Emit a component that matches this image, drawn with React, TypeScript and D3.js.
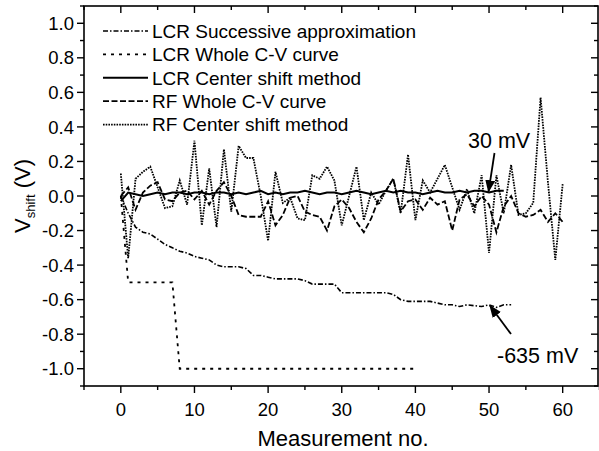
import * as React from "react";
import * as d3 from "d3";

// LCR Successive approximation (x = 0..53)
const lcrSuccessive = [
  0.0, -0.1, -0.18, -0.21, -0.22, -0.25, -0.28, -0.3, -0.32, -0.33,
  -0.35, -0.36, -0.37, -0.4, -0.41, -0.41, -0.41, -0.42, -0.46, -0.46,
  -0.47, -0.48, -0.48, -0.48, -0.48, -0.49, -0.51, -0.51, -0.51, -0.51,
  -0.56, -0.56, -0.56, -0.56, -0.56, -0.56, -0.56, -0.57, -0.6, -0.61,
  -0.61, -0.61, -0.61, -0.62, -0.63, -0.63, -0.64, -0.63, -0.635, -0.64,
  -0.63, -0.645, -0.63, -0.63
];

// LCR Whole C-V curve (x = 0..40)
const lcrWhole = [
  0.0, -0.5, -0.5, -0.5, -0.5, -0.5, -0.5, -0.5, -1.0, -1.0,
  -1.0, -1.0, -1.0, -1.0, -1.0, -1.0, -1.0, -1.0, -1.0, -1.0,
  -1.0, -1.0, -1.0, -1.0, -1.0, -1.0, -1.0, -1.0, -1.0, -1.0,
  -1.0, -1.0, -1.0, -1.0, -1.0, -1.0, -1.0, -1.0, -1.0, -1.0,
  -1.0
];

// LCR Center shift method (x = 0..52)
const lcrCenter = [
  -0.03, 0.02, 0.01, 0.0, 0.01, 0.02, 0.01, 0.02, 0.02, 0.01,
  0.02, 0.02, 0.01, 0.02, 0.02, 0.01, 0.02, 0.01, 0.02, 0.03,
  0.01, 0.02, 0.01, 0.02, 0.02, 0.03, 0.02, 0.01, 0.02, 0.02,
  0.01, 0.02, 0.03, 0.02, 0.01, 0.02, 0.03, 0.02, 0.03, 0.02,
  0.02, 0.01, 0.02, 0.03, 0.02, 0.02, 0.03, 0.02, 0.03, 0.03,
  0.02, 0.03, 0.03
];

// RF Whole C-V curve (x = 0..60)
const rfWhole = [
  0.0, 0.05, -0.08, 0.02, 0.06, 0.08, -0.02, -0.03, 0.02, 0.03,
  -0.02, 0.03, -0.05, 0.03, 0.08, 0.0, -0.11, -0.12, -0.12, -0.12,
  -0.03, -0.17, -0.11, -0.01, 0.0, -0.09, -0.11, -0.12, -0.2, -0.06,
  -0.02, -0.07, -0.15, -0.21, -0.13, -0.02, 0.03, 0.1, -0.09, -0.03,
  -0.02, -0.08, -0.01, -0.05, -0.03, -0.2, -0.02, 0.01, -0.06, 0.0,
  -0.05, -0.21, -0.06, 0.0, -0.1, -0.12, -0.11, -0.08, -0.15, -0.1,
  -0.15
];

// RF Center shift method (x = 0..60)
const rfCenter = [
  0.13, -0.36, 0.1, 0.14, 0.17, 0.05, -0.07, -0.06, 0.09, -0.05,
  0.32, -0.17, 0.16, -0.18, 0.27, -0.09, 0.29, 0.22, 0.22, 0.0,
  -0.26, 0.14, -0.04, -0.01, -0.13, -0.14, 0.12, 0.1, 0.17, 0.09,
  -0.17, 0.0, 0.17, -0.14, 0.02, -0.05, 0.03, 0.1, -0.1, 0.24,
  -0.14, 0.09, 0.02, 0.1, 0.18, 0.05, -0.08, 0.04, -0.1, 0.12,
  -0.33, 0.12, -0.1, 0.18, -0.11, -0.1, -0.04, 0.57, 0.08, -0.37,
  0.07
];

const seriesNames = [
  "LCR Successive approximation",
  "LCR Whole C-V curve",
  "LCR Center shift method",
  "RF Whole C-V curve",
  "RF Center shift method"
];

const xTicks = [0, 10, 20, 30, 40, 50, 60];
const yTicks = [-1.0, -0.8, -0.6, -0.4, -0.2, 0.0, 0.2, 0.4, 0.6, 0.8, 1.0];

const FONT = "'Liberation Sans', Arial, Helvetica, sans-serif";

export default function App() {
  const ref = React.useRef<SVGSVGElement>(null);

  React.useEffect(() => {
    const svg = d3.select(ref.current);
    svg.selectAll("*").remove();

    const left = 84, right = 598, top = 6, bottom = 386;

    const x = d3.scaleLinear().domain([-5, 65]).range([left, right + 1.5]);
    const y = d3.scaleLinear().domain([-1.1, 1.1]).range([bottom, top]);

    const line = d3.line<number>()
      .x((d, i) => x(i))
      .y(d => y(d));

    const styles = [
      {data: lcrSuccessive, dash: "5,2,1.5,2", width: 1.6},
      {data: lcrWhole, dash: "3,5", width: 1.8},
      {data: lcrCenter, dash: null, width: 2},
      {data: rfWhole, dash: "6,2.5", width: 1.8},
      {data: rfCenter, dash: "1.6,1.1", width: 1.8}
    ];

    const plot = svg.append("g");
    styles.forEach(s => {
      plot.append("path")
        .attr("d", line(s.data))
        .attr("fill", "none")
        .attr("stroke", "#000")
        .attr("stroke-width", s.width)
        .attr("stroke-dasharray", s.dash);
    });

    // frame
    svg.append("rect")
      .attr("x", left).attr("y", top)
      .attr("width", right - left).attr("height", bottom - top)
      .attr("fill", "none").attr("stroke", "#000").attr("stroke-width", 1.6);

    const xMinor = d3.range(-5, 66, 5).filter(v => v % 10 !== 0);
    const yMinor = d3.range(-11, 12, 2).map(v => v / 10);

    const ticks = svg.append("g").attr("stroke", "#000").attr("stroke-width", 1.4);
    // bottom ticks out, top ticks in
    xTicks.forEach(v => {
      ticks.append("line").attr("x1", x(v)).attr("x2", x(v)).attr("y1", bottom).attr("y2", bottom + 7);
      ticks.append("line").attr("x1", x(v)).attr("x2", x(v)).attr("y1", top).attr("y2", top + 7);
    });
    xMinor.forEach(v => {
      ticks.append("line").attr("x1", x(v)).attr("x2", x(v)).attr("y1", bottom).attr("y2", bottom + 4);
      ticks.append("line").attr("x1", x(v)).attr("x2", x(v)).attr("y1", top).attr("y2", top + 4);
    });
    // left ticks out, right ticks in
    yTicks.forEach(v => {
      ticks.append("line").attr("x1", left - 7).attr("x2", left).attr("y1", y(v)).attr("y2", y(v));
      ticks.append("line").attr("x1", right - 7).attr("x2", right).attr("y1", y(v)).attr("y2", y(v));
    });
    yMinor.forEach(v => {
      ticks.append("line").attr("x1", left - 4).attr("x2", left).attr("y1", y(v)).attr("y2", y(v));
      ticks.append("line").attr("x1", right - 4).attr("x2", right).attr("y1", y(v)).attr("y2", y(v));
    });

    // tick labels
    svg.append("g").selectAll("text").data(xTicks).enter().append("text")
      .attr("x", d => x(d)).attr("y", bottom + 30)
      .attr("text-anchor", "middle")
      .style("font", `18.5px ${FONT}`)
      .text(d => d3.format("d")(d));
    svg.append("g").selectAll("text").data(yTicks).enter().append("text")
      .attr("x", left - 10).attr("y", d => y(d)).attr("dy", "0.36em")
      .attr("text-anchor", "end")
      .style("font", `18.5px ${FONT}`)
      .text(d => d3.format(".1f")(d).replace("−", "-"));

    // axis titles
    svg.append("text")
      .attr("x", 343).attr("y", 446)
      .attr("text-anchor", "middle")
      .style("font", `22px ${FONT}`)
      .text("Measurement no.");
    const yt = svg.append("text")
      .attr("transform", `translate(30,${y(0)}) rotate(-90)`)
      .attr("text-anchor", "middle")
      .style("font", `22px ${FONT}`);
    yt.append("tspan").text("V");
    yt.append("tspan").attr("dy", 5).style("font-size", "13px").text("shift");
    yt.append("tspan").attr("dy", -5).text(" (V)");

    // legend
    const legend = svg.append("g");
    seriesNames.forEach((name, i) => {
      const ly = 31 + i * 23.4;
      legend.append("line")
        .attr("x1", 103).attr("x2", 148).attr("y1", ly).attr("y2", ly)
        .attr("stroke", "#000")
        .attr("stroke-width", styles[i].width)
        .attr("stroke-dasharray", styles[i].dash);
      legend.append("text")
        .attr("x", 152).attr("y", ly).attr("dy", "0.36em")
        .style("font", `19px ${FONT}`)
        .text(name);
    });

    // annotations
    svg.append("defs").append("marker")
      .attr("id", "arrow").attr("viewBox", "0 0 10 10")
      .attr("refX", 9).attr("refY", 5)
      .attr("markerWidth", 7).attr("markerHeight", 7)
      .attr("orient", "auto-start-reverse")
      .append("path").attr("d", "M0,1 L10,5 L0,9 z").attr("fill", "#000");

    svg.append("text")
      .attr("x", 468).attr("y", 148)
      .style("font", `21.5px ${FONT}`)
      .text("30 mV");
    svg.append("line")
      .attr("x1", 494.5).attr("y1", 153).attr("x2", x(50) - 0.5).attr("y2", y(lcrCenter[50]) - 1)
      .attr("stroke", "#000").attr("stroke-width", 1.8)
      .attr("marker-end", "url(#arrow)");

    svg.append("text")
      .attr("x", 497).attr("y", 363)
      .style("font", `21.5px ${FONT}`)
      .text("-635 mV");
    svg.append("line")
      .attr("x1", 511).attr("y1", 334).attr("x2", x(50) + 1).attr("y2", y(lcrSuccessive[50]) + 1)
      .attr("stroke", "#000").attr("stroke-width", 1.8)
      .attr("marker-end", "url(#arrow)");
  }, []);

  return (
    <svg ref={ref} width={599} height={451}
      style={{position: "absolute", left: 0, top: 0, background: "#fff"}}/>
  );
}
